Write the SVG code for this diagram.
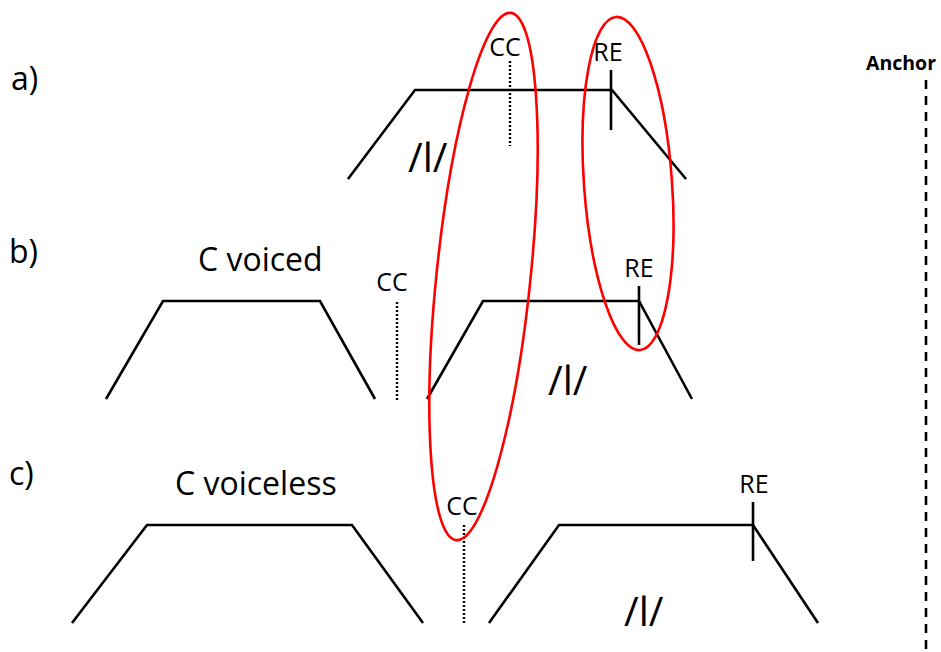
<svg xmlns="http://www.w3.org/2000/svg" width="941" height="652" viewBox="0 0 941 652">
<style>
.shape{fill:none;stroke:#000;stroke-width:2.6;stroke-linejoin:miter}
.tick{stroke:#000;stroke-width:2.6}
.dot{stroke:#000;stroke-width:2.4;stroke-dasharray:2 2}
.dash{stroke:#000;stroke-width:2.6;stroke-dasharray:9 7}
.ring{fill:none;stroke:#ff0000;stroke-width:2.6}
text{font-family:"Open Sans","Liberation Sans",sans-serif;fill:#000}
.lab{font-size:32px}
.big{font-size:32px}
.mk{font-size:25px;text-anchor:middle}
.ph{font-size:40px}
.anc{font-size:19.5px;font-weight:bold}
</style>
<rect width="941" height="652" fill="#fff"/>
<g id="labels">
<text class="lab" x="11" y="90">a)</text>
<text class="lab" x="9" y="263">b)</text>
<text class="lab" x="9" y="485">c)</text>
</g>
<g id="anchor">
<text class="anc" x="866" y="70">Anchor</text>
<line class="dash" x1="926" y1="80" x2="926" y2="652"/>
</g>
<g id="panel-a">
<polyline class="shape" points="348,179 415,90 612,90 686,179"/>
<line class="dot" x1="510" y1="61" x2="510" y2="146"/>
<text class="mk" x="505" y="56">CC</text>
<line class="tick" x1="611" y1="70" x2="611" y2="130"/>
<text class="mk" x="608" y="61">RE</text>
<text class="ph" x="408" y="172">/l/</text>
</g>
<g id="panel-b">
<text class="big" x="198" y="271">C voiced</text>
<polyline class="shape" points="106,399 163,301 320,301 375,399"/>
<line class="dot" x1="397" y1="302" x2="397" y2="400"/>
<text class="mk" x="392" y="291">CC</text>
<polyline class="shape" points="427,399 483,301 639,301 692,399"/>
<line class="tick" x1="639" y1="286" x2="639" y2="345"/>
<text class="mk" x="639" y="277" font-size="23">RE</text>
<text class="ph" x="548" y="395">/l/</text>
</g>
<g id="panel-c">
<text class="big" x="175" y="495">C voiceless</text>
<polyline class="shape" points="72,623 147,525 352,525 423,623"/>
<line class="dot" x1="464" y1="525" x2="464" y2="623"/>
<text class="mk" x="462" y="515">CC</text>
<polyline class="shape" points="489,623 559,525 753,525 818,623"/>
<line class="tick" x1="753" y1="502" x2="753" y2="561"/>
<text class="mk" x="754" y="493">RE</text>
<text class="ph" x="624" y="626">/l/</text>
</g>
<g id="highlights">
<ellipse class="ring" cx="483.5" cy="276.5" rx="47" ry="265" transform="rotate(5.9 483.5 276.5)"/>
<ellipse class="ring" cx="628" cy="183.5" rx="44" ry="167" transform="rotate(-4.1 628 183.5)"/>
</g>
</svg>
